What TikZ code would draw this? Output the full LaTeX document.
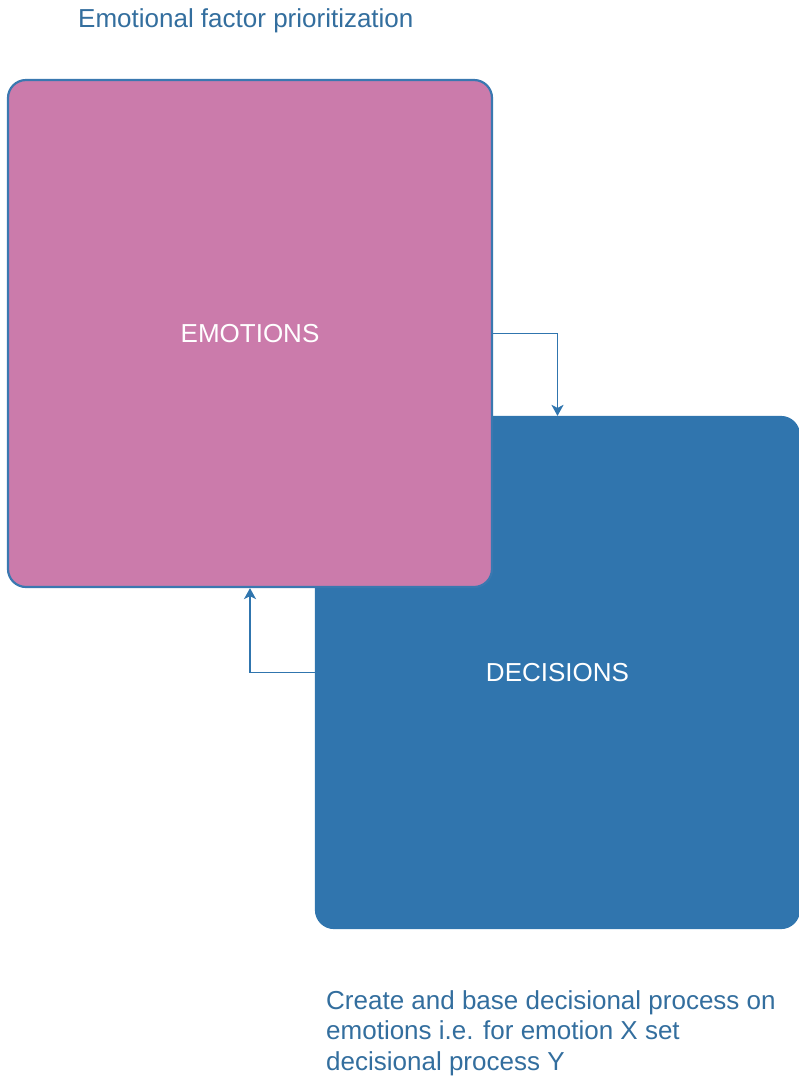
\documentclass[tikz,border=0pt]{standalone}
\usepackage{fontspec}
\setmainfont{Liberation Sans}
\usetikzlibrary{arrows.meta}
\definecolor{pinkfill}{HTML}{CB7BAB}
\definecolor{bluefill}{HTML}{3075AE}
\definecolor{blueline}{HTML}{3A78B0}
\definecolor{txtblue}{HTML}{336E9E}
\tikzset{
  box/.style={draw=blueline, line width=2.2pt, rounded corners=18pt, inner sep=0pt},
  boxlabel/.style={text=white, font=\fontsize{26}{30}\selectfont, inner sep=0pt},
  conn/.style={draw=bluefill, line width=1.8pt, -{Stealth[length=11pt,width=12pt,inset=3pt]}},
  note/.style={text=txtblue, font=\fontsize{26}{30.5}\selectfont, anchor=north west, inner sep=0pt, align=left}
}
\begin{document}
\begin{tikzpicture}[x=1pt,y=-1pt]
\useasboundingbox (0,0) rectangle (799,1080);
\node[note] (title) at (78,8) {Emotional factor prioritization};
\node[box, fill=bluefill, draw=bluefill, minimum width=483pt, minimum height=511pt] (dec) at (557.5,672.5) {};
\node[box, fill=pinkfill, minimum width=484pt, minimum height=507pt] (emo) at (250,333.5) {};
\node[boxlabel] (emolabel) at (emo.center) {EMOTIONS};
\node[boxlabel] (declabel) at (dec.center) {DECISIONS};
\draw[conn] (emo.east) -| (dec.north);
\draw[conn] (dec.west) -| (emo.south);
\node[note] (bottom) at (326,990) {Create and base decisional process on\\emotions i.e. for emotion X set\\decisional process Y};
\end{tikzpicture}
\end{document}
